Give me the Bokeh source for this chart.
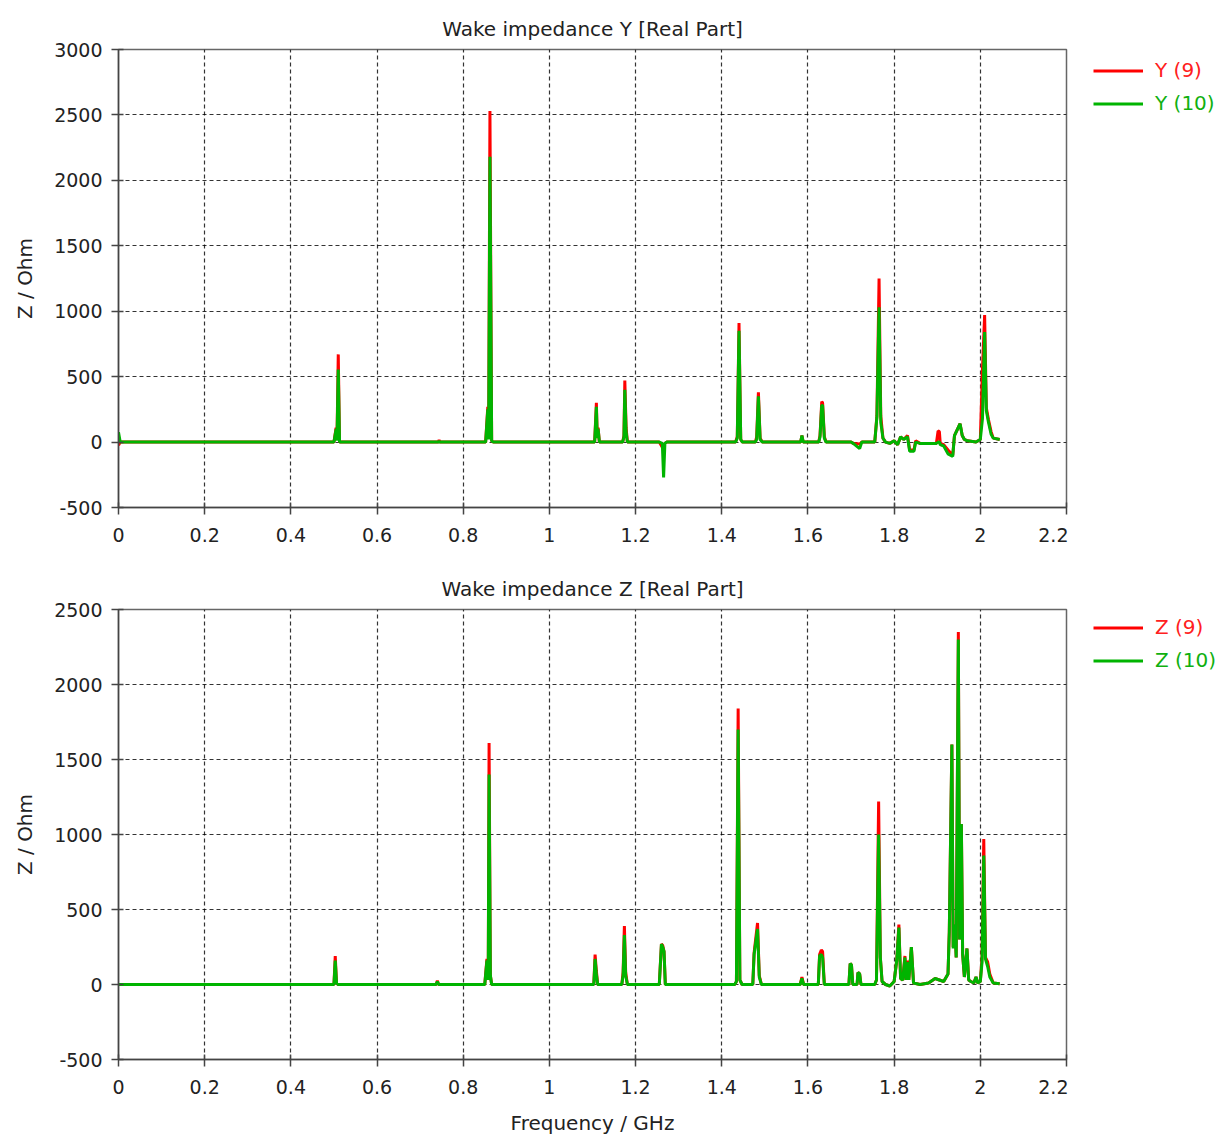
from bokeh.plotting import figure
from bokeh.layouts import column, row
from bokeh.models import Range1d, FixedTicker, Legend, LegendItem, ColumnDataSource
from bokeh.embed import file_html
from bokeh.resources import INLINE

# ---------------- data ----------------
x_ticks = [0, 0.2, 0.4, 0.6, 0.8, 1.0, 1.2, 1.4, 1.6, 1.8, 2.0, 2.2]
x_tick_labels = ["0", "0.2", "0.4", "0.6", "0.8", "1", "1.2", "1.4", "1.6", "1.8", "2", "2.2"]

y_ticks_top = [-500, 0, 500, 1000, 1500, 2000, 2500, 3000]
y_ticks_bottom = [-500, 0, 500, 1000, 1500, 2000, 2500]

# Wake impedance Y (real part)
freq_y = [0.000, 0.004, 0.500, 0.505, 0.507, 0.510, 0.513, 0.742, 0.744, 0.746,
          0.852, 0.857, 0.859, 0.862, 0.866, 0.870, 1.105, 1.109, 1.111, 1.113,
          1.116, 1.170, 1.173, 1.175, 1.178, 1.181, 1.255, 1.262, 1.265, 1.268,
          1.272, 1.432, 1.436, 1.440, 1.444, 1.448, 1.478, 1.481, 1.485, 1.489,
          1.494, 1.583, 1.586, 1.589, 1.625, 1.628, 1.632, 1.634, 1.638, 1.642,
          1.700, 1.705, 1.720, 1.725, 1.755, 1.760, 1.765, 1.769, 1.774, 1.780,
          1.790, 1.800, 1.808, 1.815, 1.822, 1.831, 1.836, 1.846, 1.850, 1.860,
          1.880, 1.898, 1.902, 1.905, 1.907, 1.915, 1.925, 1.936, 1.940, 1.953,
          1.958, 1.963, 1.970, 1.990, 2.000, 2.005, 2.010, 2.014, 2.019, 2.025,
          2.030, 2.045]
y_9 = [-25, 0, 0, 110, 20, 670, 0, 0, 15, 0,
       0, 270, 30, 2530, 10, 0, 0, 300, 40, 110,
       0, 0, 50, 470, 110, 0, 0, -40, -50, -10,
       0, 0, 40, 910, 20, 0, 0, 40, 380, 30,
       0, 0, 50, 0, 0, 50, 310, 300, 40, 0,
       0, -10, -15, 0, 0, 200, 1250, 200, 30, 0,
       -10, 10, -20, 40, 20, 50, -60, -60, 10, -10,
       -10, -10, 85, 80, -10, -20, -60, -100, 50, 140,
       50, 20, 10, 0, 20, 560, 970, 260, 170, 80,
       30, 20]
y_10 = [75, 0, 0, 100, 10, 555, 0, 0, 5, 0,
        0, 250, 20, 2180, 10, 0, 0, 270, 30, 100,
        0, 0, 40, 400, 80, 0, 0, -10, -270, -10,
        0, 0, 30, 850, 20, 0, 0, 20, 350, 20,
        0, 0, 50, 0, 0, 40, 280, 280, 30, 0,
        0, -10, -50, 0, 0, 190, 1030, 150, 30, 0,
        -10, 10, -20, 40, 20, 40, -70, -70, 0, -10,
        -10, -10, 0, 0, -20, -30, -90, -110, 50, 140,
        50, 20, 10, 0, 20, 180, 840, 240, 150, 60,
        30, 20]

# Wake impedance Z (real part)
freq_z = [0.000, 0.500, 0.503, 0.506, 0.510, 0.737, 0.740, 0.743, 0.850, 0.855,
          0.858, 0.860, 0.863, 0.866, 1.103, 1.106, 1.109, 1.112, 1.168, 1.171,
          1.174, 1.177, 1.181, 1.255, 1.260, 1.263, 1.266, 1.269, 1.430, 1.434,
          1.438, 1.442, 1.447, 1.472, 1.475, 1.483, 1.487, 1.492, 1.582, 1.586,
          1.590, 1.624, 1.627, 1.631, 1.634, 1.638, 1.695, 1.698, 1.701, 1.704,
          1.714, 1.716, 1.720, 1.723, 1.755, 1.759, 1.764, 1.768, 1.772, 1.780,
          1.790, 1.800, 1.806, 1.811, 1.815, 1.820, 1.825, 1.828, 1.831, 1.834,
          1.840, 1.845, 1.860, 1.880, 1.895, 1.905, 1.915, 1.925, 1.928, 1.934,
          1.937, 1.941, 1.944, 1.949, 1.952, 1.956, 1.959, 1.963, 1.969, 1.973,
          1.978, 1.985, 1.990, 1.994, 2.000, 2.004, 2.008, 2.012, 2.017, 2.022,
          2.030, 2.045]
z_9 = [0, 0, 190, 10, 0, 0, 25, 0, 0, 170,
       30, 1610, 60, 0, 0, 200, 90, 0, 0, 80,
       390, 80, 0, 0, 270, 260, 220, 0, 0, 20,
       1840, 30, 0, 0, 210, 410, 60, 0, 0, 50,
       0, 0, 200, 230, 220, 0, 0, 140, 130, 0,
       0, 80, 70, 0, 0, 30, 1220, 180, 20, 0,
       -10, 20, 160, 400, 40, 30, 190, 30, 160, 30,
       250, 10, 0, 10, 40, 30, 20, 70, 350, 1600,
       250, 400, 180, 2350, 300, 1070, 200, 50, 240, 30,
       20, 10, 50, 10, 20, 180, 970, 180, 150, 70,
       10, 5]
z_10 = [0, 0, 160, 10, 0, 0, 20, 0, 0, 160,
        30, 1400, 60, 0, 0, 170, 70, 0, 0, 60,
        330, 60, 0, 0, 270, 250, 220, 0, 0, 20,
        1700, 30, 0, 0, 200, 370, 50, 0, 0, 40,
        0, 0, 190, 200, 180, 0, 0, 140, 130, 0,
        0, 80, 70, 0, 0, 30, 1000, 180, 20, 0,
        -10, 20, 160, 380, 40, 30, 180, 30, 150, 30,
        250, 10, 0, 10, 40, 30, 20, 70, 350, 1600,
        240, 400, 180, 2300, 300, 1070, 200, 50, 240, 30,
        20, 10, 50, 10, 20, 150, 860, 170, 120, 50,
        10, 5]

RED = "#ff0000"
GREEN = "#00b400"
RED_TXT = "#ff2020"
GREEN_TXT = "#10b010"
FONT = "DejaVu Sans"
TXT = "#222222"


def make_plot(title, freq, s9, s10, ymin, ymax, yticks, height,
              border_top, border_bottom, xlabel=None):
    p = figure(width=1068, height=height, output_backend="svg", toolbar_location=None,
               x_range=Range1d(0, 2.2), y_range=Range1d(ymin, ymax),
               min_border_left=118, min_border_right=2,
               min_border_top=border_top, min_border_bottom=border_bottom,
               background_fill_color="white", border_fill_color="white")
    p.title.text = title
    p.title.align = "center"
    p.title.vertical_align = "top"
    p.title.text_font = FONT
    p.title.text_font_size = "20px"
    p.title.text_font_style = "normal"
    p.title.text_color = TXT
    p.title.standoff = 14

    src = ColumnDataSource(dict(f=freq, a=s9, b=s10))
    p.line("f", "a", source=src, color=RED, line_width=3, line_join="bevel")
    p.line("f", "b", source=src, color=GREEN, line_width=3, line_join="bevel")

    p.xaxis.ticker = FixedTicker(ticks=x_ticks)
    p.xaxis.major_label_overrides = {t: l for t, l in zip(x_ticks, x_tick_labels)}
    p.yaxis.ticker = FixedTicker(ticks=yticks)
    p.yaxis.major_label_overrides = {t: str(t) for t in yticks}
    for ax in (p.xaxis[0], p.yaxis[0]):
        ax.major_label_text_font = FONT
        ax.major_label_text_font_size = "19px"
        ax.major_label_text_color = TXT
        ax.axis_line_color = "#444444"
        ax.axis_line_width = 1.5
        ax.major_tick_line_color = "#444444"
        ax.major_tick_line_width = 1.5
        ax.major_tick_in = 5
        ax.major_tick_out = 7
        ax.minor_tick_line_color = None
        ax.axis_label_text_font = FONT
        ax.axis_label_text_font_size = "20px"
        ax.axis_label_text_font_style = "normal"
        ax.axis_label_text_color = TXT
    p.xaxis.major_label_standoff = 13
    p.yaxis.major_label_standoff = 9
    p.yaxis.axis_label = "Z / Ohm"
    p.yaxis.axis_label_standoff = 14
    if xlabel:
        p.xaxis.axis_label = xlabel
        p.xaxis.axis_label_standoff = 14

    p.grid.grid_line_color = "#000000"
    p.grid.grid_line_alpha = 0.8
    p.grid.grid_line_dash = "4 3"
    p.grid.grid_line_width = 1.2

    p.outline_line_color = "#666666"
    p.outline_line_width = 1.5
    return p


def make_legend(names, height, frame_h):
    # the row aligns this figure's frame with the main plot's frame
    q = figure(width=155, height=height, output_backend="svg", toolbar_location=None,
               x_axis_type=None, y_axis_type=None,
               x_range=Range1d(0, 1), y_range=Range1d(0, 1),
               min_border=0, background_fill_color="white", border_fill_color="white")
    q.outline_line_color = None
    q.grid.visible = False
    # proxy renderers for the legend glyphs (their single point lies outside the view)
    proxy = ColumnDataSource(dict(x=[-5.0], y=[-5.0]))
    r1 = q.line("x", "y", source=proxy, color=RED, line_width=3)
    r2 = q.line("x", "y", source=proxy, color=GREEN, line_width=3)
    for r, name, col, below_top in ((r1, names[0], RED_TXT, 21), (r2, names[1], GREEN_TXT, 54)):
        lg = Legend(items=[LegendItem(label=name, renderers=[r])],
                    location=(25, frame_h - below_top - 16.5), padding=0, margin=0, spacing=0,
                    glyph_width=50, glyph_height=33, label_height=33, label_standoff=12,
                    border_line_color=None, background_fill_alpha=0,
                    label_text_color=col, label_text_font=FONT,
                    label_text_font_size="20px")
        q.add_layout(lg, "center")
    return q


top = make_plot("Wake impedance Y [Real Part]", freq_y, y_9, y_10,
                -500, 3000, y_ticks_top, 560, 49, 53)
top_leg = make_legend(["Y (9)", "Y (10)"], 560, 458)
bottom = make_plot("Wake impedance Z [Real Part]", freq_z, z_9, z_10,
                   -500, 2500, y_ticks_bottom, 577, 49, 75, xlabel="Frequency / GHz")
bottom_leg = make_legend(["Z (9)", "Z (10)"], 577, 453)

layout = column(row(top, top_leg, spacing=0), row(bottom, bottom_leg, spacing=0), spacing=0)
open("out.html", "w").write(file_html(layout, INLINE))
